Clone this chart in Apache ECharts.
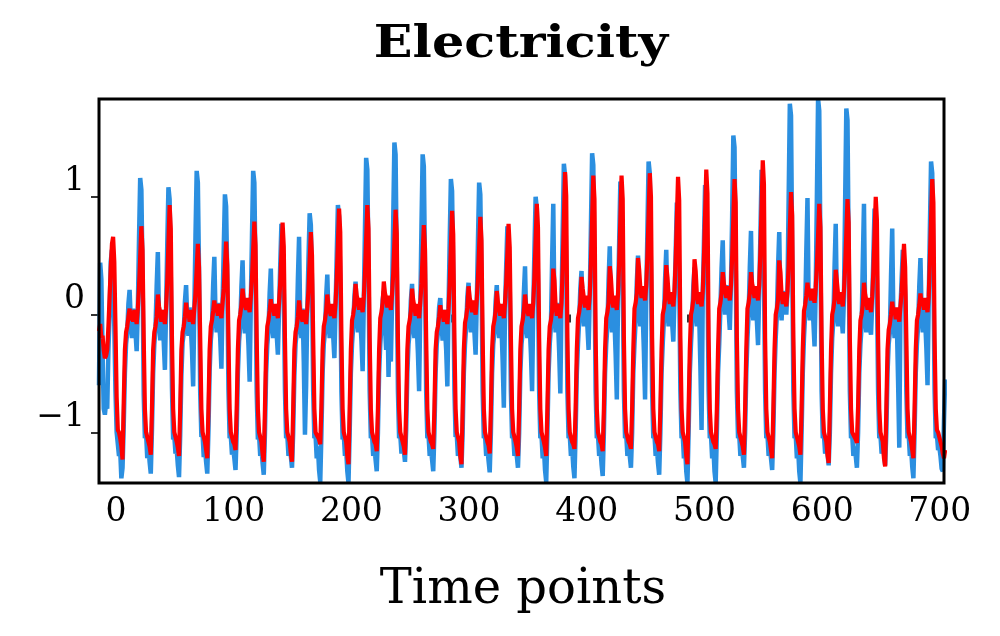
<!DOCTYPE html>
<html>
<head>
<meta charset="utf-8">
<script src="https://cdn.jsdelivr.net/npm/echarts@6/dist/echarts.min.js"></script>
<style>html,body{margin:0;padding:0;background:#fff}#c{width:1000px;height:636px}</style>
</head>
<body>
<div id="c"></div>
<script>
// Ground truth (blue), one row per 24 time points
const truth = [
-0.6,0.44,0.3,-0.3,-0.8,-0.85,-0.75,-0.8,-0.3,0.0,0.45,0.55,0.3,-0.1,-0.65,-1.0,-1.1,-1.2,-1.15,-1.39,-1.3,-0.95,-0.5,-0.25,
-0.15,0.09,0.21,-0.05,-0.2,0.05,-0.1,-0.15,-0.31,0.05,0.64,1.16,1.06,0.35,-0.68,-1.05,-1.0,-1.22,-1.1,-1.25,-1.35,-0.98,-0.5,-0.25,
-0.12,0.24,0.53,-0.05,-0.22,0.04,-0.12,-0.23,-0.47,0.05,0.59,1.08,0.98,0.32,-0.62,-1.06,-1.03,-1.18,-1.14,-1.28,-1.38,-1.02,-0.52,-0.24,
-0.16,0.11,0.25,-0.04,-0.18,0.06,-0.1,-0.3,-0.61,0.04,0.67,1.22,1.12,0.37,-0.66,-1.04,-1.01,-1.21,-1.11,-1.25,-1.35,-0.99,-0.48,-0.22,
-0.1,0.25,0.49,0.0,-0.15,0.1,-0.05,-0.2,-0.46,0.1,0.56,1.02,0.92,0.31,-0.64,-1.05,-1.03,-1.19,-1.13,-1.22,-1.32,-1.0,-0.5,-0.23,
-0.1,0.23,0.46,0.0,-0.16,0.1,-0.05,-0.26,-0.57,0.1,0.67,1.22,1.12,0.37,-0.66,-1.06,-1.02,-1.2,-1.12,-1.26,-1.36,-1.01,-0.5,-0.26,
-0.14,0.18,0.39,-0.05,-0.2,0.05,-0.1,-0.17,-0.34,0.05,0.42,0.77,0.67,0.23,-0.64,-1.05,-1.02,-1.2,-1.12,-1.2,-1.3,-1.0,-0.52,-0.25,
-0.15,0.3,0.66,-0.05,-0.2,0.05,-0.4,-1.02,-0.6,0.05,0.47,0.86,0.76,0.26,-0.65,-1.05,-1.02,-1.22,-1.12,-1.32,-1.42,-1.0,-0.5,-0.25,
-0.15,0.15,0.34,-0.05,-0.2,0.05,-0.1,-0.18,-0.37,0.05,0.51,0.93,0.83,0.28,-0.66,-1.06,-1.02,-1.2,-1.14,-1.33,-1.43,-1.0,-0.5,-0.25,
-0.1,0.15,0.28,0.0,-0.15,0.1,-0.05,-0.22,-0.48,0.1,0.73,1.33,1.23,0.4,-0.65,-1.05,-1.02,-1.2,-1.12,-1.23,-1.33,-1.0,-0.5,-0.25,
-0.1,0.12,0.2,-0.1,-0.3,0.1,-0.53,0.0,-0.4,0.1,0.8,1.46,1.36,0.44,-0.65,-1.05,-1.02,-1.18,-1.1,-1.15,-1.25,-0.98,-0.5,-0.25,
-0.15,0.12,0.26,-0.05,-0.2,0.05,-0.1,-0.33,-0.65,0.05,0.75,1.36,1.26,0.41,-0.65,-1.05,-1.02,-1.2,-1.12,-1.23,-1.33,-1.0,-0.5,-0.25,
-0.15,0.06,0.14,-0.08,-0.22,0.04,-0.12,-0.3,-0.61,0.05,0.63,1.15,1.05,0.35,-0.64,-1.04,-1.02,-1.2,-1.12,-1.2,-1.3,-1.0,-0.5,-0.25,
-0.1,0.15,0.27,0.0,-0.15,0.1,-0.05,-0.15,-0.34,0.1,0.62,1.12,1.02,0.34,-0.65,-1.05,-1.02,-1.2,-1.12,-1.24,-1.34,-1.0,-0.5,-0.25,
-0.15,0.11,0.25,-0.05,-0.2,0.05,-0.1,-0.4,-0.79,0.05,0.41,0.75,0.65,0.23,-0.65,-1.05,-1.02,-1.2,-1.12,-1.2,-1.3,-1.0,-0.5,-0.25,
-0.15,0.18,0.41,-0.05,-0.2,0.05,-0.1,-0.33,-0.65,0.05,0.55,1.0,0.9,0.3,-0.65,-1.05,-1.02,-1.22,-1.12,-1.32,-1.42,-1.0,-0.5,-0.25,
-0.1,0.45,0.94,0.0,-0.15,0.1,-0.05,-0.31,-0.67,0.1,0.7,1.28,1.18,0.38,-0.65,-1.05,-1.02,-1.2,-1.12,-1.29,-1.39,-1.0,-0.5,-0.25,
-0.05,0.22,0.37,0.05,-0.1,0.15,0.0,-0.1,-0.3,0.15,0.75,1.37,1.27,0.41,-0.65,-1.05,-1.02,-1.2,-1.12,-1.27,-1.37,-1.0,-0.5,-0.25,
-0.1,0.29,0.58,0.0,-0.15,0.1,-0.05,-0.34,-0.72,0.1,0.62,1.13,1.03,0.34,-0.65,-1.05,-1.02,-1.2,-1.12,-1.2,-1.3,-1.0,-0.5,-0.25,
-0.05,0.28,0.5,0.05,-0.1,0.15,0.0,-0.31,-0.72,0.15,0.72,1.3,1.2,0.39,-0.65,-1.05,-1.02,-1.2,-1.12,-1.26,-1.36,-1.0,-0.5,-0.25,
-0.05,0.3,0.55,0.05,-0.1,0.15,0.0,-0.07,-0.23,0.15,0.52,0.95,0.85,0.29,-0.65,-1.05,-1.02,-1.22,-1.12,-1.33,-1.43,-1.0,-0.5,-0.25,
-0.05,0.24,0.4,0.05,-0.1,0.15,0.0,-0.44,-0.98,0.15,0.6,1.1,1.0,0.33,-0.65,-1.05,-1.02,-1.22,-1.12,-1.33,-1.43,-1.0,-0.5,-0.25,
0.05,0.39,0.63,0.15,0.0,0.25,0.1,0.03,-0.13,0.25,0.84,1.52,1.42,0.46,-0.65,-1.05,-1.02,-1.2,-1.12,-1.2,-1.3,-1.0,-0.5,-0.2,
0.0,0.4,0.71,0.1,-0.05,0.2,0.05,-0.05,-0.26,0.2,0.68,1.23,1.13,0.37,-0.65,-1.05,-1.02,-1.2,-1.12,-1.22,-1.32,-1.0,-0.5,-0.2,
0.0,0.4,0.7,0.1,-0.05,0.2,0.05,0.08,0.0,0.2,0.98,1.79,1.69,0.54,-0.65,-1.05,-1.02,-1.22,-1.12,-1.33,-1.43,-1.0,-0.5,-0.2,
0.0,0.53,0.99,0.1,-0.05,0.2,0.05,-0.06,-0.27,0.2,1.0,1.83,1.73,0.55,-0.65,-1.05,-1.02,-1.18,-1.12,-1.18,-1.28,-1.0,-0.5,-0.2,
-0.05,0.4,0.77,0.05,-0.1,0.15,0.0,-0.03,-0.16,0.15,0.96,1.75,1.65,0.53,-0.65,-1.05,-1.02,-1.2,-1.12,-1.2,-1.3,-1.0,-0.5,-0.25,
-0.1,0.45,0.94,0.0,-0.15,0.1,-0.05,-0.06,-0.17,0.1,0.5,0.9,0.8,0.27,-0.65,-1.05,-1.02,-1.18,-1.12,-1.18,-1.28,-1.0,-0.5,-0.25,
-0.15,0.33,0.73,-0.05,-0.2,0.05,-0.1,-0.57,-1.13,0.05,0.3,0.55,0.45,0.17,-0.65,-1.05,-1.02,-1.2,-1.12,-1.29,-1.39,-1.0,-0.5,-0.25,
-0.1,0.24,0.48,0.0,-0.15,0.1,-0.05,-0.28,-0.6,0.1,0.72,1.3,1.2,0.39,-0.65,-1.05,-1.02,-1.15,-1.12,-1.2,-1.31,-1.33,-0.9,-0.55
];
// Prediction (red)
const prediction = [
-0.14,-0.08,-0.2,-0.18,-0.3,-0.37,-0.35,-0.3,-0.1,0.15,0.4,0.6,0.66,0.45,-0.1,-0.7,-0.98,-1.0,-1.05,-1.12,-1.23,-0.75,-0.3,-0.15,
-0.1,-0.02,0.05,-0.05,0.02,-0.06,0.04,-0.02,-0.08,0.05,0.23,0.49,0.75,0.55,-0.2,-0.8,-1.0,-1.04,-1.08,-1.12,-1.19,-0.8,-0.3,-0.15,
-0.1,-0.02,0.17,0.07,0.02,-0.06,0.04,-0.02,-0.08,0.05,0.28,0.6,0.93,0.73,-0.2,-0.8,-1.0,-1.04,-1.08,-1.13,-1.2,-0.8,-0.3,-0.15,
-0.1,-0.02,0.1,0.0,0.02,-0.06,0.04,-0.02,-0.08,0.05,0.18,0.39,0.6,0.4,-0.2,-0.8,-1.0,-1.04,-1.08,-1.15,-1.22,-0.8,-0.3,-0.1,
-0.05,0.03,0.12,0.02,0.07,-0.01,0.09,0.03,-0.03,0.1,0.22,0.42,0.62,0.42,-0.2,-0.8,-1.0,-1.04,-1.08,-1.1,-1.15,-0.8,-0.3,-0.05,
0.0,0.08,0.22,0.12,0.12,0.04,0.14,0.08,0.02,0.15,0.31,0.55,0.79,0.59,-0.2,-0.8,-1.0,-1.04,-1.08,-1.18,-1.25,-0.8,-0.3,-0.1,
-0.05,0.03,0.13,0.03,0.07,-0.01,0.09,0.03,-0.03,0.1,0.27,0.52,0.78,0.58,-0.2,-0.8,-1.0,-1.04,-1.08,-1.18,-1.25,-0.8,-0.3,-0.15,
-0.1,-0.02,0.12,0.02,0.02,-0.06,0.04,-0.02,-0.08,0.05,0.21,0.46,0.7,0.5,-0.2,-0.8,-1.0,-1.02,-1.04,-1.06,-1.1,-0.78,-0.3,-0.1,
-0.05,0.03,0.17,0.07,0.07,-0.01,0.09,0.03,-0.03,0.1,0.31,0.6,0.9,0.7,-0.2,-0.8,-1.0,-1.04,-1.08,-1.2,-1.27,-0.8,-0.3,-0.05,
0.0,0.08,0.26,0.16,0.12,0.04,0.14,0.08,0.02,0.15,0.35,0.64,0.93,0.73,-0.2,-0.8,-1.0,-1.04,-1.08,-1.1,-1.16,-0.8,-0.3,-0.03,
0.02,0.1,0.28,0.18,0.14,0.06,0.16,0.1,0.04,0.17,0.35,0.62,0.89,0.69,-0.2,-0.8,-1.0,-1.04,-1.08,-1.12,-1.19,-0.8,-0.3,-0.1,
-0.05,0.03,0.22,0.12,0.07,-0.01,0.09,0.03,-0.03,0.1,0.26,0.51,0.76,0.56,-0.2,-0.8,-1.0,-1.04,-1.08,-1.1,-1.14,-0.8,-0.3,-0.15,
-0.1,-0.02,0.08,-0.02,0.02,-0.06,0.04,-0.02,-0.08,0.05,0.26,0.57,0.88,0.68,-0.2,-0.8,-1.0,-1.04,-1.08,-1.2,-1.27,-0.8,-0.3,-0.07,
-0.02,0.06,0.24,0.14,0.1,0.02,0.12,0.06,0.0,0.13,0.31,0.57,0.83,0.63,-0.2,-0.8,-1.0,-1.04,-1.08,-1.11,-1.18,-0.8,-0.3,-0.1,
-0.05,0.03,0.2,0.1,0.07,-0.01,0.09,0.03,-0.03,0.1,0.27,0.52,0.77,0.57,-0.2,-0.8,-1.0,-1.04,-1.08,-1.13,-1.2,-0.8,-0.3,-0.1,
-0.05,0.03,0.17,0.07,0.07,-0.01,0.09,0.03,-0.03,0.1,0.32,0.63,0.94,0.74,-0.2,-0.8,-1.0,-1.04,-1.08,-1.13,-1.2,-0.8,-0.3,-0.1,
-0.05,0.03,0.39,0.29,0.07,-0.01,0.09,0.03,-0.03,0.1,0.4,0.8,1.21,1.01,-0.2,-0.8,-1.0,-1.04,-1.08,-1.1,-1.14,-0.8,-0.3,-0.03,
0.02,0.1,0.32,0.22,0.14,0.06,0.16,0.1,0.04,0.17,0.44,0.81,1.18,0.98,-0.2,-0.8,-1.0,-1.04,-1.08,-1.1,-1.16,-0.8,-0.3,-0.03,
0.02,0.1,0.41,0.31,0.14,0.06,0.16,0.1,0.04,0.17,0.44,0.81,1.18,0.98,-0.2,-0.8,-1.0,-1.04,-1.08,-1.1,-1.14,-0.8,-0.3,0.05,
0.1,0.18,0.48,0.38,0.22,0.14,0.24,0.18,0.12,0.25,0.5,0.85,1.2,1.0,-0.2,-0.8,-1.0,-1.04,-1.08,-1.1,-1.16,-0.8,-0.3,0.0,
0.05,0.13,0.42,0.32,0.17,0.09,0.19,0.13,0.07,0.2,0.46,0.81,1.17,0.97,-0.2,-0.8,-1.0,-1.04,-1.08,-1.2,-1.27,-0.8,-0.3,0.0,
0.05,0.13,0.47,0.37,0.17,0.09,0.19,0.13,0.07,0.2,0.47,0.85,1.23,1.03,-0.2,-0.8,-1.0,-1.04,-1.08,-1.1,-1.14,-0.8,-0.3,0.05,
0.1,0.18,0.36,0.26,0.22,0.14,0.24,0.18,0.12,0.25,0.49,0.82,1.15,0.95,-0.2,-0.8,-1.0,-1.04,-1.08,-1.12,-1.19,-0.8,-0.3,0.05,
0.1,0.18,0.36,0.26,0.22,0.14,0.24,0.18,0.12,0.25,0.53,0.92,1.31,1.11,-0.2,-0.8,-1.0,-1.04,-1.08,-1.15,-1.22,-0.8,-0.3,0.0,
0.05,0.13,0.46,0.36,0.17,0.09,0.19,0.13,0.07,0.2,0.42,0.73,1.04,0.84,-0.2,-0.8,-1.0,-1.04,-1.08,-1.12,-1.19,-0.8,-0.3,0.03,
0.08,0.16,0.27,0.17,0.2,0.12,0.22,0.16,0.1,0.23,0.41,0.67,0.94,0.74,-0.2,-0.8,-1.0,-1.04,-1.08,-1.19,-1.26,-0.8,-0.3,0.0,
0.05,0.13,0.38,0.28,0.17,0.09,0.19,0.13,0.07,0.2,0.4,0.69,0.98,0.78,-0.2,-0.8,-1.0,-1.02,-1.04,-1.06,-1.09,-0.78,-0.3,-0.05,
0.0,0.08,0.27,0.17,0.12,0.04,0.14,0.08,0.02,0.15,0.37,0.69,1.0,0.8,-0.2,-0.8,-1.0,-1.04,-1.08,-1.22,-1.29,-0.8,-0.3,-0.13,
-0.08,0.0,0.11,0.01,0.04,-0.04,0.06,0.0,-0.06,0.07,0.19,0.4,0.6,0.4,-0.2,-0.8,-1.0,-1.04,-1.08,-1.15,-1.22,-0.8,-0.3,-0.05,
0.0,0.08,0.18,0.08,0.12,0.04,0.14,0.08,0.02,0.15,0.46,0.8,1.15,0.95,-0.2,-0.8,-0.98,-1.0,-1.04,-1.08,-1.12,-1.18,-1.22,-1.15
];
const xTicks = [0, 100, 200, 300, 400, 500, 600, 700];
const yTicks = [-1, 0, 1];

const chart = echarts.init(document.getElementById('c'), null, {renderer: 'canvas'});
const serif = '"DejaVu Serif", serif';
chart.setOption({
  animation: false,
  backgroundColor: '#fff',
  grid: {left: 99, top: 99, width: 845, height: 384, show: false},
  xAxis: {
    type: 'value', min: 0, max: 718,
    axisLine: {show: false},
    splitLine: {show: false},
    axisTick: {show: true, customValues: xTicks, length: 8, lineStyle: {color: '#000', width: 1.6}},
    axisLabel: {customValues: xTicks, color: '#000', fontFamily: serif, fontSize: 33, margin: 13, padding: [0, 0, 0, 34]}
  },
  yAxis: {
    type: 'value', min: -1.43, max: 1.83,
    axisLine: {show: false},
    splitLine: {show: false},
    axisTick: {show: true, customValues: yTicks, length: 8, lineStyle: {color: '#000', width: 1.6}},
    axisLabel: {customValues: yTicks, color: '#000', fontFamily: serif, fontSize: 33, margin: 14, verticalAlign: 'bottom', lineHeight: 30,
      formatter: v => (v < 0 ? '\u2212' + Math.abs(v) : String(v))}
  },
  graphic: [
    {type: 'rect', z: 100, silent: true, shape: {x: 99, y: 99, width: 845, height: 384}, style: {fill: 'transparent', stroke: '#000', lineWidth: 3}},
    {type: 'text', x: 521, y: 45, scaleX: 1.13, style: {text: 'Electricity', font: 'bold 45px "DejaVu Serif"', textAlign: 'center', textVerticalAlign: 'middle', fill: '#000'}},
    {type: 'text', x: 523, y: 591, style: {text: 'Time points', font: '48px "DejaVu Serif"', textAlign: 'center', textVerticalAlign: 'middle', fill: '#000'}}
  ],
  series: [
    {type: 'line', data: truth.map((v, i) => [i, v]), showSymbol: false, symbol: 'none', lineStyle: {color: '#2b8fe0', width: 4.5}, z: 2},
    {type: 'line', data: prediction.map((v, i) => [i, v]), showSymbol: false, symbol: 'none', lineStyle: {color: '#ff0000', width: 4.2}, z: 3}
  ]
});
</script>
</body>
</html>
